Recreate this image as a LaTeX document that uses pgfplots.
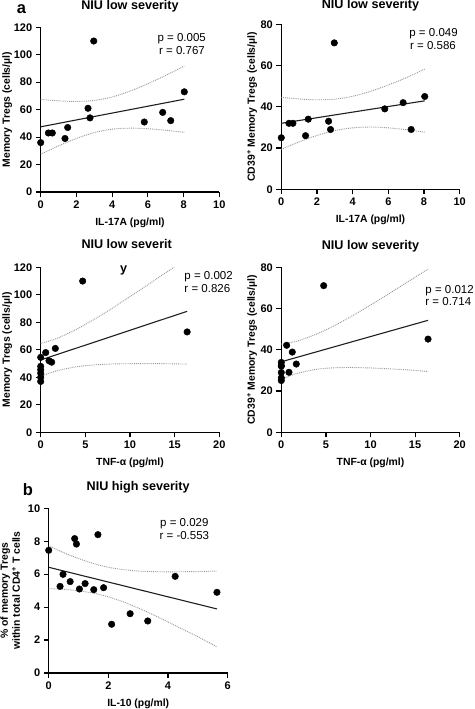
\documentclass[border=0pt]{standalone}
\usepackage{fontspec}
\setmainfont{Liberation Sans}
\usepackage{pgfplots}
\pgfplotsset{compat=1.18}
\definecolor{cigray}{RGB}{150,150,150}
\definecolor{regline}{RGB}{30,30,30}
\pgfplotsset{
  panel/.style={
    scale only axis,
    anchor=south west,
    axis lines*=left,
    axis line style={line width=1.4pt, black},
    tick align=outside,
    major tick length=5pt,
    tick style={line width=1.2pt, black},
    xmin=0, ymin=0,
    clip=false,
    /pgf/number format/assume math mode=true,
    tick label style={font=\bfseries\fontsize{11}{12}\selectfont},
    label style={font=\bfseries\fontsize{10.4}{12}\selectfont},
    xlabel style={at={(axis description cs:0.5,0)}, anchor=base, yshift=-33.5pt},
    title style={font=\bfseries\fontsize{12.6}{15}\selectfont, at={(axis description cs:0.5,1)}, anchor=base},
  },
  dots/.style={only marks, mark=*, mark size=3.3pt, black},
  fitl/.style={no marks, regline, line width=1.1pt},
  ci/.style={no marks, cigray, densely dotted, line width=0.9pt, smooth},
}
\tikzset{prtext/.style={anchor=base west, font=\fontsize{11.5}{13}\selectfont, inner sep=0pt}}
\begin{document}
\begin{tikzpicture}
\useasboundingbox (0pt,-709pt) rectangle (474pt,0pt);
\node[anchor=base west, font=\bfseries\fontsize{16.5}{18}\selectfont, inner sep=0pt] at (16.7pt,-13.3pt) {a};
\node[anchor=base west, font=\bfseries\fontsize{16.5}{18}\selectfont, inner sep=0pt] at (22.7pt,-495pt) {b};

% Panel 1
\begin{axis}[panel, at={(40.7pt,-192pt)}, width=178.6pt, height=164.7pt,
  xmax=10, ymax=120, xtick={0,2,...,10}, ytick={0,20,...,120},
  xlabel={IL-17A (pg/ml)}, ylabel={Memory Tregs (cells/µl)},
  ylabel style={at={(axis description cs:-0.187,0.5)}, anchor=center},
  title={NIU low severity}, title style={yshift=12pt}]
\addplot[ci] coordinates {(0,67.5)(1,66.4)(2,66.0)(3,66.7)(4,69.2)(5,73.5)(6,78.9)(7,85.0)(8.04,91.7)};
\addplot[ci] coordinates {(0,27.5)(1,33.6)(2,39.0)(3,43.3)(4,45.8)(5,46.5)(6,46.1)(7,45.0)(8.04,43.5)};
\addplot[fitl] coordinates {(0,47.5)(8.04,67.6)};
\addplot[dots] coordinates {(0,36)(0.43,43)(0.65,43)(1.36,39)(1.51,47)(2.65,61)(2.76,54)(2.97,110)(5.80,51)(6.83,58)(7.28,52)(8.04,73)};
\node[prtext] at (axis cs:6.53,109.5) {p = 0.005};
\node[prtext] at (axis cs:6.62,100.5) {r = 0.767};
\end{axis}

% Panel 2
\begin{axis}[panel, at={(281.3pt,-189.3pt)}, width=178.4pt, height=165pt,
  xmax=10, ymax=80, xtick={0,2,...,10}, ytick={0,20,...,80},
  xlabel={IL-17A (pg/ml)}, ylabel={CD39\textsuperscript{+} Memory Tregs (cells/µl)},
  ylabel style={at={(axis description cs:-0.164,0.5)}, anchor=center},
  title={NIU low severity}, title style={yshift=9.5pt}]
\addplot[ci] coordinates {(0,44.6)(1,43.8)(2,43.4)(3,43.7)(4,45.1)(5,47.5)(6,50.6)(7,54.1)(8.04,58.3)};
\addplot[ci] coordinates {(0,19.4)(1,23.0)(2,26.1)(3,28.5)(4,29.8)(5,30.2)(6,29.8)(7,28.9)(8.04,27.7)};
\addplot[fitl] coordinates {(0,32.0)(8.04,42.9)};
\addplot[dots] coordinates {(0,25)(0.43,32)(0.65,32)(1.36,26)(1.51,34)(2.65,33)(2.76,29)(2.97,71)(5.80,39)(6.83,42)(7.28,29)(8.04,45)};
\node[prtext] at (axis cs:7.17,74.0) {p = 0.049};
\node[prtext] at (axis cs:7.21,68.0) {r = 0.586};
\end{axis}

% Panel 3
\begin{axis}[panel, at={(40.7pt,-432.3pt)}, width=178.6pt, height=165pt,
  xmax=20, ymax=120, xtick={0,5,...,20}, ytick={0,20,...,120},
  xlabel={TNF-α (pg/ml)}, ylabel={Memory Tregs (cells/µl)},
  ylabel style={at={(axis description cs:-0.187,0.5)}, anchor=center},
  title={NIU low severit}, title style={yshift=13pt, xshift=-3.3pt}]
\addplot[ci] coordinates {(0,64.6)(1,66.5)(2,68.8)(4,74.9)(6,82.2)(8,90.2)(10,98.7)(12,107.3)(14,116.1)(14.95,120)};
\addplot[ci] coordinates {(0,40.6)(1,43.1)(2,45.0)(4,47.7)(6,49.0)(8,49.7)(10,49.9)(12,50.0)(14,49.9)(16.4,49.6)};
\addplot[fitl] coordinates {(0,52.6)(16.4,88.0)};
\addplot[dots] coordinates {(0,37)(0,40)(0,43)(0,45.5)(0,48)(0,54.5)(0.56,58)(0.93,52)(1.23,51)(1.64,61)(4.70,110)(16.40,73)};
\node[anchor=base, font=\bfseries\fontsize{12.6}{15}\selectfont, inner sep=0pt] at (axis cs:9.29,116.1) {y};
\node[prtext] at (axis cs:16.08,111.3) {p = 0.002};
\node[prtext] at (axis cs:16.08,101.8) {r = 0.826};
\end{axis}

% Panel 4
\begin{axis}[panel, at={(281.3pt,-432.3pt)}, width=178.4pt, height=165pt,
  xmax=20, ymax=80, xtick={0,5,...,20}, ytick={0,20,...,80},
  xlabel={TNF-α (pg/ml)}, ylabel={CD39\textsuperscript{+} Memory Tregs (cells/µl)},
  ylabel style={at={(axis description cs:-0.164,0.5)}, anchor=center},
  title={NIU low severity}, title style={yshift=12.3pt}]
\addplot[ci] coordinates {(0,42.7)(1,43.5)(2,44.5)(4,47.7)(6,51.8)(8,56.6)(10,61.7)(12,67.0)(14,72.5)(16.45,79.1)};
\addplot[ci] coordinates {(0,25.7)(1,27.4)(2,28.8)(4,30.6)(6,31.3)(8,31.4)(10,31.2)(12,30.8)(14,30.3)(16.45,29.5)};
\addplot[fitl] coordinates {(0,34.2)(16.45,54.3)};
\addplot[dots] coordinates {(0,25.1)(0,26.4)(0,29)(0,32.2)(0,32.2)(0,33.9)(0.6,42.2)(0.86,29.1)(1.23,38.9)(1.68,33.1)(4.75,71.1)(16.45,45.2)};
\node[prtext] at (axis cs:16.14,67.4) {p = 0.012};
\node[prtext] at (axis cs:16.14,61.4) {r = 0.714};
\end{axis}

% Panel 5
\begin{axis}[panel, at={(48.7pt,-673pt)}, width=179pt, height=164.7pt,
  xmax=6, ymax=10, xtick={0,2,...,6}, ytick={0,2,...,10},
  xlabel={IL-10 (pg/ml)}, ylabel={\% of memory Tregs\\within total CD4\textsuperscript{+} T cells},
  ylabel style={at={(axis description cs:-0.215,0.5)}, anchor=center, align=center},
  title={NIU high severity}, title style={yshift=12.3pt}]
\addplot[ci] coordinates {(0,7.72)(0.5,7.31)(1,6.95)(1.5,6.65)(2,6.42)(2.5,6.28)(3,6.19)(3.5,6.16)(4,6.14)(4.5,6.15)(5,6.16)(5.64,6.19)};
\addplot[ci] coordinates {(0,5.12)(0.5,5.08)(1,4.99)(1.5,4.85)(2,4.62)(2.5,4.32)(3,3.95)(3.5,3.54)(4,3.10)(4.5,2.65)(5,2.20)(5.64,1.59)};
\addplot[fitl] coordinates {(0,6.42)(5.64,3.89)};
\addplot[dots] coordinates {(0,7.45)(0.38,5.26)(0.48,5.99)(0.72,5.55)(0.87,8.16)(0.93,7.83)(1.03,5.10)(1.22,5.43)(1.51,5.06)(1.65,8.40)(1.84,5.18)(2.11,2.96)(2.73,3.60)(3.32,3.16)(4.24,5.87)(5.64,4.90)};
\node[prtext] at (axis cs:3.73,8.88) {p = 0.029};
\node[prtext] at (axis cs:3.71,8.08) {r = -0.553};
\end{axis}
\end{tikzpicture}
\end{document}
